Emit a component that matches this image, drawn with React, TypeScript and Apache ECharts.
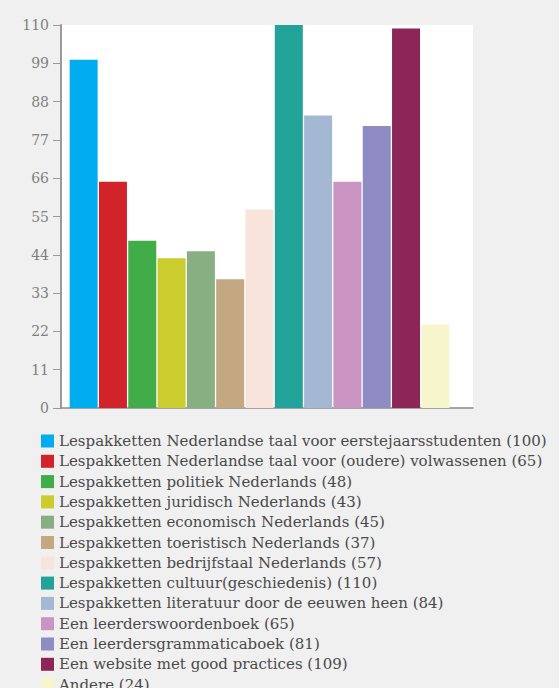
import React, { useEffect, useRef } from "react";
import * as echarts from "echarts";

const categories = [
  "Lespakketten Nederlandse taal voor eerstejaarsstudenten",
  "Lespakketten Nederlandse taal voor (oudere) volwassenen",
  "Lespakketten politiek Nederlands",
  "Lespakketten juridisch Nederlands",
  "Lespakketten economisch Nederlands",
  "Lespakketten toeristisch Nederlands",
  "Lespakketten bedrijfstaal Nederlands",
  "Lespakketten cultuur(geschiedenis)",
  "Lespakketten literatuur door de eeuwen heen",
  "Een leerderswoordenboek",
  "Een leerdersgrammaticaboek",
  "Een website met good practices",
  "Andere",
];
const values = [100, 65, 48, 43, 45, 37, 57, 110, 84, 65, 81, 109, 24];
const colors = [
  "#00aeef", "#d2232a", "#40ad49", "#cbcc2e", "#87af82", "#c4a882", "#f9e4db",
  "#21a39a", "#a4b8d4", "#ca94c3", "#8f8cc3", "#8c2656", "#f7f5cc",
];
const yTicks = { min: 0, max: 110, interval: 11 };

export default function App() {
  const ref = useRef<HTMLDivElement>(null);
  useEffect(() => {
    document.body.style.margin = "0";
    const chart = echarts.init(ref.current!, null, { renderer: "svg" });
    const font = "DejaVu Serif";
    chart.setOption({
      animation: false,
      backgroundColor: "#f0f0f0",
      grid: [
        { left: 61, right: 86, top: 25, bottom: 280, show: true, backgroundColor: "#ffffff", borderWidth: 0 },
        { left: 69, right: 109, top: 25, bottom: 280 },
      ],
      xAxis: [
        {
          type: "category", gridIndex: 0, data: [""],
          axisLine: { lineStyle: { color: "#8a8a8a", width: 1.5 } },
          axisTick: { show: false }, axisLabel: { show: false },
        },
        {
          type: "category", gridIndex: 1, data: categories,
          axisLine: { show: false }, axisTick: { show: false }, axisLabel: { show: false },
        },
      ],
      yAxis: [
        {
          type: "value", gridIndex: 0, min: yTicks.min, max: yTicks.max, interval: yTicks.interval,
          axisLine: { show: true, lineStyle: { color: "#9a9a9a", width: 2 } },
          axisTick: { show: true, length: 8, lineStyle: { color: "#9a9a9a" } },
          axisLabel: { color: "#808080", fontFamily: font, fontSize: 14, margin: 12 },
          splitLine: { show: false },
        },
        {
          type: "value", gridIndex: 1, min: yTicks.min, max: yTicks.max, interval: yTicks.interval,
          show: false, splitLine: { show: false },
        },
      ],
      legend: {
        orient: "vertical", left: 41, top: 433, height: 400, itemWidth: 13, itemHeight: 13, itemGap: 4.3,
        icon: "rect", padding: 0,
        textStyle: { fontFamily: font, fontSize: 15, color: "#4a4a4a", lineHeight: 16 },
      },
      series: categories.map((c, i) => ({
        type: "bar",
        name: `${c} (${values[i]})`,
        xAxisIndex: 1, yAxisIndex: 1, stack: "all",
        barWidth: 28,
        itemStyle: { color: colors[i] },
        data: values.map((v, j) => (j === i ? v : "-")),
      })),
    });
    return () => chart.dispose();
  }, []);
  return <div ref={ref} style={{ width: 559, height: 688 }} />;
}
